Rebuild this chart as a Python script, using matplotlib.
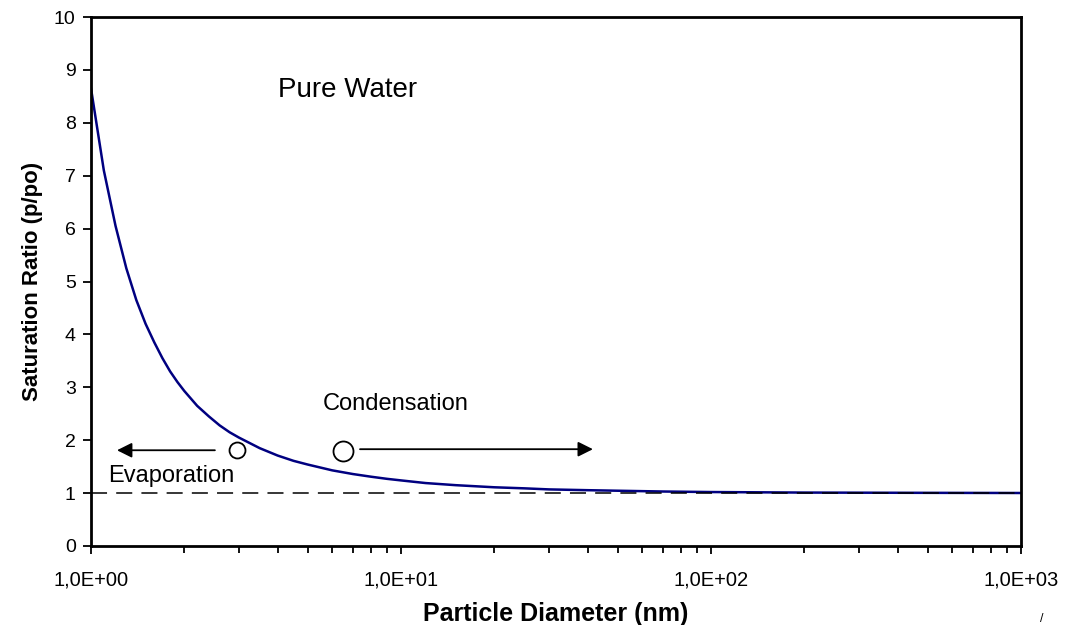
import matplotlib
matplotlib.use("Agg")
import matplotlib.pyplot as plt
from matplotlib.ticker import FixedLocator, FixedFormatter, LogLocator, NullFormatter

plt.rcParams['font.family'] = ['Liberation Sans', 'DejaVu Sans']

# Saturation ratio vs particle diameter
diameter_nm = [1.0, 1.1, 1.2, 1.3, 1.4, 1.5, 1.6, 1.7, 1.8, 1.9, 2.0, 2.2,
               2.4, 2.6, 2.8, 3.0, 3.5, 4.0, 4.5, 5.0, 6.0, 7.0, 8.0, 9.0,
               10, 12, 15, 20, 25, 30, 40, 50, 70, 100, 200, 500, 1000]
saturation = [8.65, 7.10, 6.05, 5.25, 4.65, 4.20, 3.85, 3.55, 3.30, 3.10,
              2.93, 2.65, 2.45, 2.28, 2.15, 2.05, 1.85, 1.71, 1.61, 1.54,
              1.43, 1.36, 1.31, 1.27, 1.24, 1.19, 1.15, 1.11, 1.09, 1.07,
              1.055, 1.045, 1.03, 1.02, 1.01, 1.005, 1.002]

x_ticks = [1, 10, 100, 1000]
x_tick_labels = ['1,0E+00', '1,0E+01', '1,0E+02', '1,0E+03']
y_ticks = list(range(0, 11))

# droplets and arrows (diameter, ratio)
small_drop = (2.96, 1.81)
large_drop = (6.5, 1.80)
evap_arrow = [(2.51, 1.81), (1.213, 1.81)]
cond_arrow = [(7.375, 1.83), (41.6, 1.83)]

fig = plt.figure(figsize=(10.65, 6.25), dpi=100)
ax = fig.add_axes([91 / 1065, 1 - 546 / 625, 930 / 1065, 529 / 625])

ax.axhline(1, color='black', lw=1.1, dashes=(10.5, 6), zorder=3)
ax.plot(diameter_nm, saturation, color='#000080', lw=1.8, zorder=2)

ax.set_xscale('log')
ax.set_xlim(1, 1000)
ax.set_ylim(0, 10)

ax.xaxis.set_major_locator(FixedLocator(x_ticks))
ax.xaxis.set_major_formatter(FixedFormatter(x_tick_labels))
ax.xaxis.set_minor_locator(LogLocator(base=10, subs=range(2, 10)))
ax.xaxis.set_minor_formatter(NullFormatter())
ax.set_yticks(y_ticks)

for s in ax.spines.values():
    s.set_linewidth(2)
ax.tick_params(axis='x', which='major', direction='out', length=6, width=1.3,
               labelsize=14.5, pad=12)
ax.tick_params(axis='x', which='minor', direction='out', length=5, width=1.3)
ax.tick_params(axis='y', direction='out', length=6, width=1.3, labelsize=14, pad=5)

ax.set_xlabel('Particle Diameter (nm)', fontsize=18, fontweight='bold', labelpad=9)
ax.set_ylabel('Saturation Ratio (p/po)', fontsize=16, fontweight='bold', labelpad=8)

# circles
ax.plot(*small_drop, marker='o', ms=11.5, mfc='white', mec='black', mew=1.3, zorder=4)
ax.plot(*large_drop, marker='o', ms=14.4, mfc='white', mec='black', mew=1.3, zorder=4)

arrow_style = dict(arrowstyle='-|>,head_length=0.9,head_width=0.45', color='black',
                   lw=1.3, shrinkA=0, shrinkB=0)
ax.annotate('', xy=evap_arrow[1], xytext=evap_arrow[0], arrowprops=arrow_style)
ax.annotate('', xy=cond_arrow[1], xytext=cond_arrow[0], arrowprops=arrow_style)

ax.text(4.01, 8.49, 'Pure Water', fontsize=20, va='baseline', ha='left')
ax.text(5.6, 2.57, 'Condensation', fontsize=17, va='baseline', ha='left')
ax.text(1.135, 1.21, 'Evaporation', fontsize=17, va='baseline', ha='left')

fig.text(1040 / 1065, 1 - 622 / 625, '/', fontsize=9, ha='left', va='baseline')

fig.savefig('out.png', dpi=100)
